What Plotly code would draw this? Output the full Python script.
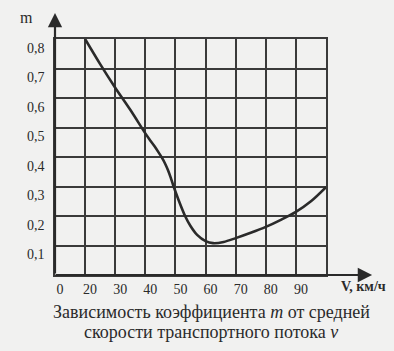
import plotly.graph_objects as go

# Data
speed_v = [20, 25, 30, 35, 40, 41.5, 43, 44.5, 45.5, 46.5, 47.5, 48.4, 49.2, 51, 53.2, 55,
           57.2, 60, 62.5, 66, 70, 75, 80, 85, 90, 95, 100]
coef_m = [0.80, 0.715, 0.635, 0.56, 0.48, 0.458, 0.437, 0.414, 0.398, 0.379, 0.356, 0.331,
          0.306, 0.255, 0.20, 0.166, 0.136, 0.115, 0.108, 0.112, 0.125, 0.143, 0.163,
          0.187, 0.214, 0.25, 0.298]

x_tickvals = [10, 20, 30, 40, 50, 60, 70, 80, 90, 100]
x_ticktext = ["0", "20", "30", "40", "50", "60", "70", "80", "90", ""]
y_tickvals = [0.1, 0.2, 0.3, 0.4, 0.5, 0.6, 0.7, 0.8]
y_ticktext = ["0,1", "0,2", "0,3", "0,4", "0,5", "0,6", "0,7", "0,8"]

ink = "#2a2a2a"
paper = "#f1f1f0"
serif = "Liberation Serif"

fig = go.Figure()
fig.add_trace(go.Scatter(
    x=speed_v, y=coef_m, mode="lines",
    line=dict(color=ink, width=2.6, shape="spline", smoothing=0.9),
    hoverinfo="skip", showlegend=False,
))

fig.update_layout(
    width=394, height=351,
    margin=dict(l=55, r=68, t=39, b=76),
    paper_bgcolor=paper, plot_bgcolor=paper,
    font=dict(family=serif, color=ink),
    showlegend=False,
)
fig.update_xaxes(
    range=[10, 100], tickmode="array", tickvals=x_tickvals, ticktext=x_ticktext,
    showgrid=True, gridcolor="#3a3a3a", gridwidth=1.6, zeroline=False,
    showline=True, mirror=True, linecolor="#3a3a3a", linewidth=1.6,
    ticks="", tickfont=dict(family=serif, size=14, color=ink),
    ticklabelstandoff=0, ticklabelshift=5,
)
fig.update_yaxes(
    range=[0, 0.8], tickmode="array", tickvals=y_tickvals, ticktext=y_ticktext,
    showgrid=True, gridcolor="#3a3a3a", gridwidth=1.6, zeroline=False,
    showline=True, mirror=True, linecolor="#3a3a3a", linewidth=1.6,
    ticks="", tickfont=dict(family=serif, size=14, color=ink),
    ticklabelstandoff=6, ticklabelshift=9,
)

# Axis arrows
fig.add_annotation(x=10, y=1.11, xref="x", yref="paper", ax=0, ay=262,
                   showarrow=True, arrowhead=2, arrowsize=1.3, arrowwidth=2.2,
                   arrowcolor=ink, text="")
fig.add_annotation(x=1.17, y=0, xref="paper", yref="y", ax=-318, ay=0,
                   showarrow=True, arrowhead=2, arrowsize=1.3, arrowwidth=2.2,
                   arrowcolor=ink, text="")

# Axis titles
fig.add_annotation(x=-0.105, y=1.09, xref="paper", yref="paper", text="m",
                   xanchor="center", yanchor="middle",
                   showarrow=False, font=dict(family=serif, size=16, color=ink))
fig.add_annotation(x=1.137, y=-0.05, xref="paper", yref="paper", text="<b>V, км/ч</b>",
                   xanchor="center", yanchor="middle",
                   showarrow=False, font=dict(family=serif, size=14, color=ink))

# Caption (two lines)
fig.add_annotation(x=0.577, y=-0.157, xref="paper", yref="paper",
                   text="Зависимость коэффициента <i>m</i> от средней",
                   showarrow=False, xanchor="center", yanchor="middle",
                   font=dict(family=serif, size=18, color=ink))
fig.add_annotation(x=0.577, y=-0.242, xref="paper", yref="paper",
                   text="скорости транспортного потока <i>v</i>",
                   showarrow=False, xanchor="center", yanchor="middle",
                   font=dict(family=serif, size=18, color=ink))

fig.write_html("out.html")
